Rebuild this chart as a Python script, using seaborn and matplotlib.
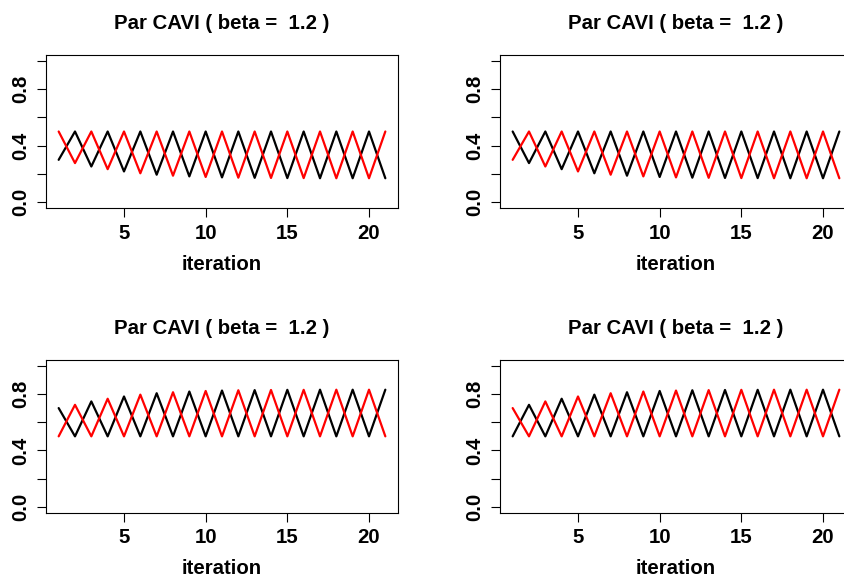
import matplotlib
matplotlib.use("Agg")
import matplotlib.pyplot as plt
import seaborn as sns
import pandas as pd

sns.set_theme(style="white")
plt.rcParams["font.family"] = ["Liberation Sans", "DejaVu Sans"]
plt.rcParams["font.weight"] = "bold"
plt.rcParams["text.color"] = "black"
plt.rcParams["axes.labelcolor"] = "black"
plt.rcParams["xtick.color"] = "black"
plt.rcParams["ytick.color"] = "black"

iteration = list(range(1, 22))

# Parameter traces for each panel (black series, red series)
tl_black = [0.300, 0.500, 0.253, 0.500, 0.218, 0.500, 0.195, 0.500, 0.183, 0.500, 0.176,
            0.500, 0.173, 0.500, 0.171, 0.500, 0.170, 0.500, 0.170, 0.500, 0.170]
tl_red = [0.500, 0.277, 0.500, 0.234, 0.500, 0.205, 0.500, 0.188, 0.500, 0.179, 0.500,
          0.174, 0.500, 0.172, 0.500, 0.171, 0.500, 0.170, 0.500, 0.170, 0.500]

tr_black = [0.500, 0.277, 0.500, 0.234, 0.500, 0.205, 0.500, 0.188, 0.500, 0.179, 0.500,
            0.174, 0.500, 0.172, 0.500, 0.171, 0.500, 0.170, 0.500, 0.170, 0.500]
tr_red = [0.300, 0.500, 0.253, 0.500, 0.218, 0.500, 0.195, 0.500, 0.183, 0.500, 0.176,
          0.500, 0.173, 0.500, 0.171, 0.500, 0.170, 0.500, 0.170, 0.500, 0.170]

bl_black = [0.700, 0.500, 0.747, 0.500, 0.782, 0.500, 0.805, 0.500, 0.817, 0.500, 0.824,
            0.500, 0.827, 0.500, 0.829, 0.500, 0.830, 0.500, 0.830, 0.500, 0.830]
bl_red = [0.500, 0.723, 0.500, 0.766, 0.500, 0.795, 0.500, 0.812, 0.500, 0.821, 0.500,
          0.826, 0.500, 0.828, 0.500, 0.829, 0.500, 0.830, 0.500, 0.830, 0.500]

br_black = [0.500, 0.723, 0.500, 0.766, 0.500, 0.795, 0.500, 0.812, 0.500, 0.821, 0.500,
            0.826, 0.500, 0.828, 0.500, 0.829, 0.500, 0.830, 0.500, 0.830, 0.500]
br_red = [0.700, 0.500, 0.747, 0.500, 0.782, 0.500, 0.805, 0.500, 0.817, 0.500, 0.824,
          0.500, 0.827, 0.500, 0.829, 0.500, 0.830, 0.500, 0.830, 0.500, 0.830]

title_text = "Par CAVI ( beta =  1.2 )"
x_label = "iteration"
x_ticks = [5, 10, 15, 20]
y_ticks = [0.0, 0.2, 0.4, 0.6, 0.8, 1.0]
y_tick_labels = ["0.0", "", "0.4", "", "0.8", ""]

W, H = 844, 576
fig = plt.figure(figsize=(W / 100, H / 100), dpi=100)

def px_rect(left, top, right, bottom):
    return [left / W, 1 - bottom / H, (right - left) / W, (bottom - top) / H]

panels = [
    (px_rect(45.6, 55.0, 398.4, 208.0), tl_black, tl_red),
    (px_rect(499.6, 55.0, 852.4, 208.0), tr_black, tr_red),
    (px_rect(45.6, 360.0, 398.4, 512.7), bl_black, bl_red),
    (px_rect(499.6, 360.0, 852.4, 512.7), br_black, br_red),
]

fs = 14.7
for rect, black, red in panels:
    ax = fig.add_axes(rect)
    df = pd.DataFrame({"iteration": iteration, "black": black, "red": red})
    sns.lineplot(data=df, x="iteration", y="black", color="black", linewidth=1.6, ax=ax)
    sns.lineplot(data=df, x="iteration", y="red", color="#FF0000", linewidth=1.6, ax=ax)
    ax.set_xlim(0.2, 21.8)
    ax.set_ylim(-0.04, 1.04)
    ax.set_xticks(x_ticks)
    ax.set_xticklabels([str(t) for t in x_ticks], fontsize=fs, fontweight="bold")
    ax.set_yticks(y_ticks)
    ax.set_yticklabels(y_tick_labels, fontsize=fs, fontweight="bold",
                       rotation=90, va="center")
    ax.tick_params(axis="both", direction="out", length=6.3, width=0.8,
                   color="black", bottom=True, left=True)
    ax.tick_params(axis="x", pad=5)
    ax.tick_params(axis="y", pad=4.5)
    for s in ax.spines.values():
        s.set_color("black")
        s.set_linewidth(0.8)
        s.set_visible(True)
    ax.set_xlabel(x_label, fontsize=fs, fontweight="bold", labelpad=8.5)
    ax.set_ylabel("")
    ax.set_title(title_text, fontsize=fs, fontweight="bold", pad=19)
    ax.grid(False)

fig.savefig("out.png", dpi=100, facecolor="white")
